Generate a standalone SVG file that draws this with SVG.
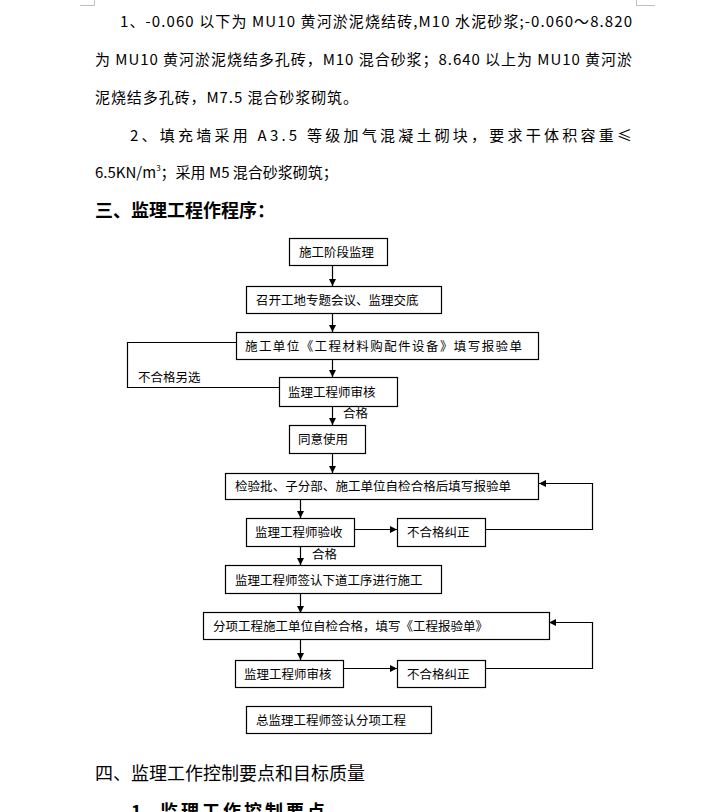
<svg xmlns="http://www.w3.org/2000/svg" width="717" height="812" viewBox="0 0 717 812">
<style>
.bg{fill:#fff}
.box{fill:#fff;stroke:#000;stroke-width:1.2}
.t{font-family:"Noto Sans CJK SC","Liberation Sans",sans-serif;font-size:12.5px;fill:#000}
.p{font-family:"Noto Sans CJK SC","Liberation Serif",serif;font-size:15px;fill:#000}
.h{font-family:"Noto Sans CJK SC","Liberation Sans",sans-serif;font-size:18px;fill:#000}
.c{fill:none;stroke:#000;stroke-width:1.2}
.g{fill:none;stroke:#c0c0c0;stroke-width:1}
</style>
<defs>
<marker id="ah" markerUnits="userSpaceOnUse" markerWidth="8" markerHeight="8" refX="7" refY="3.5" orient="auto">
<path d="M0,0 L7,3.5 L0,7 z" fill="#000"/>
</marker>
</defs>
<rect class="bg" x="0" y="0" width="717" height="812"/>
<path class="g" d="M80,5.5 H94.5 V0 M636.5,0 V5.5 H655"/>
<g id="paragraph">
<text class="p" x="120" y="27" textLength="512" lengthAdjust="spacing">1、-0.060 以下为 MU10 黄河淤泥烧结砖,M10 水泥砂浆;-0.060～8.820</text>
<text class="p" x="95" y="65" textLength="537" lengthAdjust="spacing">为 MU10 黄河淤泥烧结多孔砖，M10 混合砂浆；8.640 以上为 MU10 黄河淤</text>
<text class="p" x="95" y="103" textLength="263" lengthAdjust="spacing">泥烧结多孔砖，M7.5 混合砂浆砌筑。</text>
<text class="p" x="130" y="141" textLength="502" lengthAdjust="spacing">2、填充墙采用 A3.5 等级加气混凝土砌块，要求干体积容重≤</text>
<text class="p" x="95" y="178">6.5KN/m<tspan font-size="8" dy="-7">3</tspan><tspan dy="7">；采用 M5 混合砂浆砌筑；</tspan></text>
<text class="h" x="95" y="217" font-weight="bold">三、监理工程作程序：</text>
<text class="h" x="95" y="780">四、监理工作控制要点和目标质量</text>
<text class="h" x="131" y="818" font-weight="bold" font-size="17">1</text>
<text class="h" x="160" y="818" font-weight="bold" font-size="17" letter-spacing="3">监理工作控制要点</text>
</g>
<g id="connectors">
<line class="c" x1="332.5" y1="266" x2="332.5" y2="286" marker-end="url(#ah)"/>
<line class="c" x1="332.5" y1="313" x2="332.5" y2="332" marker-end="url(#ah)"/>
<line class="c" x1="332.5" y1="359" x2="332.5" y2="377" marker-end="url(#ah)"/>
<polyline class="c" points="236,342.5 127.5,342.5 127.5,387.5 279,387.5"/>
<line class="c" x1="332.5" y1="406" x2="332.5" y2="425" marker-end="url(#ah)"/>
<line class="c" x1="332.5" y1="453" x2="332.5" y2="473" marker-end="url(#ah)"/>
<line class="c" x1="300.5" y1="499" x2="300.5" y2="518" marker-end="url(#ah)"/>
<line class="c" x1="354" y1="529.5" x2="397" y2="529.5" marker-end="url(#ah)"/>
<polyline class="c" points="485,529.5 592.5,529.5 592.5,483.5 539,483.5" marker-end="url(#ah)"/>
<line class="c" x1="300.5" y1="546" x2="300.5" y2="565" marker-end="url(#ah)"/>
<line class="c" x1="300.5" y1="593" x2="300.5" y2="613" marker-end="url(#ah)"/>
<line class="c" x1="300.5" y1="640" x2="300.5" y2="660" marker-end="url(#ah)"/>
<line class="c" x1="343" y1="668.5" x2="397" y2="668.5" marker-end="url(#ah)"/>
<polyline class="c" points="485,668.5 592.5,668.5 592.5,622.5 549,622.5" marker-end="url(#ah)"/>
<text class="t" x="138" y="382">不合格另选</text>
<text class="t" x="343" y="418">合格</text>
<text class="t" x="312" y="559">合格</text>
</g>
<g id="n1"><rect class="box" x="289.5" y="238.5" width="98" height="27"/><text class="t" x="299" y="257">施工阶段监理</text></g>
<g id="n2"><rect class="box" x="246.5" y="286.5" width="195" height="27"/><text class="t" x="256" y="305">召开工地专题会议、监理交底</text></g>
<g id="n3"><rect class="box" x="236.5" y="332.5" width="302" height="27"/><text class="t" x="245" y="351" textLength="277" lengthAdjust="spacing">施工单位《工程材料购配件设备》填写报验单</text></g>
<g id="n4"><rect class="box" x="279.5" y="377.5" width="118" height="29"/><text class="t" x="288" y="397">监理工程师审核</text></g>
<g id="n5"><rect class="box" x="289.5" y="425.5" width="76" height="28"/><text class="t" x="298" y="444">同意使用</text></g>
<g id="n6"><rect class="box" x="225.5" y="473.5" width="313" height="26"/><text class="t" x="235" y="491" textLength="276" lengthAdjust="spacing">检验批、子分部、施工单位自检合格后填写报验单</text></g>
<g id="n7"><rect class="box" x="246.5" y="518.5" width="108" height="28"/><text class="t" x="255" y="537">监理工程师验收</text></g>
<g id="n8"><rect class="box" x="397.5" y="518.5" width="88" height="28"/><text class="t" x="407" y="537">不合格纠正</text></g>
<g id="n9"><rect class="box" x="225.5" y="565.5" width="216" height="28"/><text class="t" x="235" y="585">监理工程师签认下道工序进行施工</text></g>
<g id="n10"><rect class="box" x="203.5" y="612.5" width="346" height="27"/><text class="t" x="213" y="631" textLength="275" lengthAdjust="spacing">分项工程施工单位自检合格，填写《工程报验单》</text></g>
<g id="n11"><rect class="box" x="235.5" y="660.5" width="108" height="27"/><text class="t" x="244" y="679">监理工程师审核</text></g>
<g id="n12"><rect class="box" x="397.5" y="660.5" width="88" height="27"/><text class="t" x="407" y="679">不合格纠正</text></g>
<g id="n13"><rect class="box" x="246.5" y="706.5" width="185" height="27"/><text class="t" x="256" y="725">总监理工程师签认分项工程</text></g>
</svg>
